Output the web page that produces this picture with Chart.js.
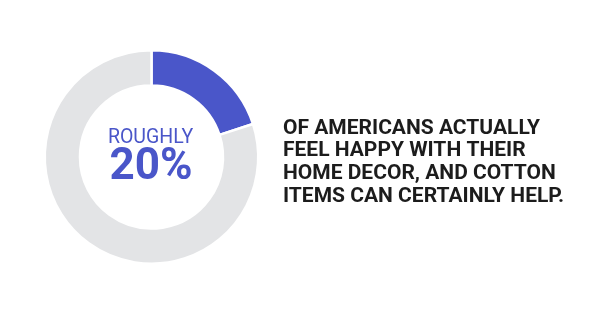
<!DOCTYPE html>
<html>
<head>
<meta charset="utf-8">
<script src="https://cdn.jsdelivr.net/npm/chart.js@4"></script>
<style>
  html, body { margin: 0; padding: 0; background: #fff; }
  #wrap { position: relative; width: 600px; height: 315px; }
</style>
</head>
<body>
<div id="wrap"><canvas id="donut" width="600" height="315"></canvas></div>
<script>
// Data
const labels = ['Happy with home decor', 'Other'];
const values = [20, 80];
const colors = ['#4a56c9', '#e3e4e6'];
const centerLabel = 'ROUGHLY';
const centerValue = '20%';
const caption = [
    'OF AMERICANS ACTUALLY',
    'FEEL HAPPY WITH THEIR',
    'HOME DECOR, AND COTTON',
    'ITEMS CAN CERTAINLY HELP.'
];

// Draw the text in the middle of the ring and the caption on the right
const textPlugin = {
    id: 'textPlugin',
    afterDraw(chart) {
        const ctx = chart.ctx;
        const meta = chart.getDatasetMeta(0).data[0];
        const cx = meta.x;
        const cy = meta.y;
        ctx.save();
        ctx.textAlign = 'center';
        ctx.textBaseline = 'alphabetic';
        ctx.fillStyle = '#4a56c9';
        ctx.font = '19.5px Roboto';
        ctx.fillText(centerLabel, cx - 1, cy - 14);
        ctx.font = 'bold 44px Roboto';
        ctx.fillText(centerValue, cx - 0.5, cy + 22);

        ctx.textAlign = 'left';
        ctx.fillStyle = '#1c1c1c';
        ctx.font = 'bold 21px Roboto';
        caption.forEach((line, i) => {
            ctx.fillText(line, 283, 133.5 + i * 22.7);
        });
        ctx.restore();
    }
};

const ctx = document.getElementById('donut').getContext('2d');
new Chart(ctx, {
    type: 'doughnut',
    data: {
        labels: labels,
        datasets: [{
            data: values,
            backgroundColor: colors,
            borderColor: '#fff',
            borderWidth: 2.5,
            hoverOffset: 0
        }]
    },
    options: {
        responsive: false,
        animation: false,
        cutout: '67%',
        layout: {
            padding: { left: 43, right: 340, top: 49, bottom: 50 }
        },
        plugins: {
            legend: { display: false },
            tooltip: { enabled: false }
        }
    },
    plugins: [textPlugin]
});
</script>
</body>
</html>
